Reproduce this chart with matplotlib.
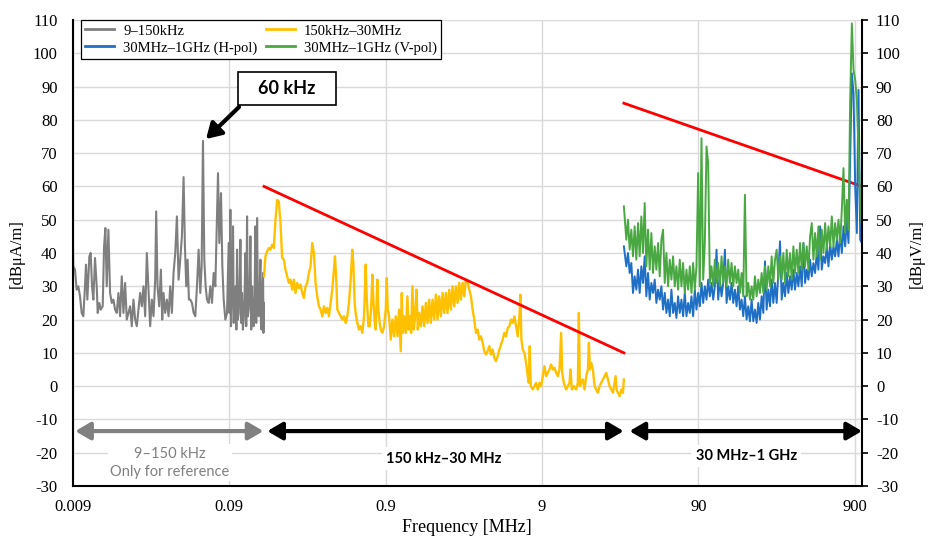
import matplotlib
matplotlib.use('Agg')
import matplotlib.pyplot as plt
from matplotlib.patches import Rectangle
from matplotlib.ticker import NullLocator

# 9-150 kHz band, frequency in kHz, level in dBuA/m
lf_freq = [9.0, 9.04, 9.27, 9.50, 9.74, 9.98, 10.23, 10.48, 10.74, 10.90, 11.12, 11.45, 11.68, 11.91,
           12.15, 12.45, 12.76, 12.95, 13.27, 13.54, 13.94, 14.22, 14.50, 14.79, 15.16, 15.54, 15.93,
           16.32, 16.73, 17.15, 17.57, 18.01, 18.46, 18.92, 19.39, 19.87, 20.37, 20.87, 21.39, 21.93,
           22.47, 23.03, 24.19, 24.80, 25.41, 26.05, 26.70, 27.36, 28.04, 28.74, 29.46, 30.19, 30.64,
           31.25, 32.03, 32.83, 33.48, 34.14, 34.99, 35.86, 36.76, 37.67, 38.61, 39.57, 40.56, 41.57,
           42.60, 43.66, 44.75, 45.87, 46.78, 47.71, 48.66, 49.62, 50.61, 51.87, 53.16, 54.49, 55.84,
           57.23, 58.66, 59.83, 61.02, 62.23, 63.46, 64.73, 66.34, 67.99, 69.68, 71.42, 73.20, 75.02,
           76.14, 77.65, 79.58, 81.16, 82.78, 84.84, 86.95, 89.12, 90.2, 91.34, 92.2, 93.15, 94.1,
           95.00, 96.0, 96.89, 97.8, 98.81, 99.8, 100.8, 102.0, 103.3, 104.6, 105.9, 107.2, 108.5,
           109.8, 111.2, 112.6, 114.0, 115.4, 116.8, 118.2, 119.7, 121.2, 122.7, 124.2, 125.8, 127.3,
           128.9, 130.5, 132.1, 133.7, 135.4, 137.1, 138.8, 140.5, 142.2, 143.3, 144.4, 146.1, 147.9,
           148.6, 149.4]
lf_level = [42, 36, 35, 29, 30, 27, 22, 21, 30, 36.5, 26, 39, 40, 30,
            26, 38.5, 30, 22, 25, 23, 24, 42, 47.5, 30, 47, 28, 25,
            26, 23, 22, 28, 21, 33, 22, 31, 20, 22, 24, 18, 26,
            20, 18, 28, 24, 30, 21, 40, 29, 18, 26, 21, 32, 52.5,
            30, 24, 35, 20, 28, 22, 26, 21, 30, 22, 34, 40, 51,
            32, 38, 45, 62.8, 42, 30, 38, 26, 26, 25, 22, 21, 30,
            41, 28, 36, 73.7, 38, 30, 26, 25, 30, 25, 34, 30, 51,
            64, 43, 58, 36, 26, 20, 22, 43, 22, 53, 18, 26, 31,
            48, 19, 24, 29, 30, 17, 41, 20, 22, 30, 44, 19, 28,
            17, 20, 27, 40, 18, 51, 21, 23, 29, 45, 17, 30, 20,
            18, 27, 48, 19, 50.5, 22, 21, 29, 38, 19, 17, 27, 34,
            16, 25]

# 150 kHz-30 MHz band, frequency in MHz
hf_freq = [0.150, 0.1531, 0.1569, 0.1608, 0.1648, 0.1689, 0.1732, 0.1775, 0.1819, 0.1864, 0.1911,
           0.1958, 0.2007, 0.2057, 0.2108, 0.2161, 0.2214, 0.2270, 0.2326, 0.2384, 0.2443, 0.2504,
           0.2567, 0.2631, 0.2696, 0.2763, 0.2832, 0.2903, 0.2975, 0.3049, 0.3125, 0.3203, 0.3282,
           0.3364, 0.3448, 0.3534, 0.3622, 0.3712, 0.3804, 0.3899, 0.3996, 0.4096, 0.4198, 0.4260,
           0.4345, 0.4410, 0.4519, 0.4632, 0.4747, 0.4866, 0.4987, 0.5111, 0.5238, 0.5369, 0.5502,
           0.5585, 0.5695, 0.5780, 0.5924, 0.6072, 0.6223, 0.6378, 0.6537, 0.6699, 0.6799, 0.6969,
           0.7107, 0.7248, 0.7392, 0.7502, 0.7651, 0.7765, 0.7958, 0.8077, 0.8237, 0.8360, 0.8568,
           0.8781, 0.9000, 0.9134, 0.9269, 0.9454, 0.9689, 0.9930, 1.0178, 1.0431, 1.0691, 1.0957,
           1.1230, 1.1397, 1.1566, 1.1796, 1.2090, 1.2391, 1.2576, 1.2825, 1.3080, 1.3339, 1.3605,
           1.3876, 1.4151, 1.4432, 1.4719, 1.5086, 1.5462, 1.5847, 1.6242, 1.6646, 1.7061, 1.7486,
           1.7921, 1.8367, 1.8826, 1.9293, 1.9774, 2.0267, 2.0771, 2.1289, 2.1819, 2.2362, 2.2919,
           2.3490, 2.4075, 2.4675, 2.5289, 2.5919, 2.6565, 2.7226, 2.7905, 2.8600, 2.9312, 3.0042,
           3.0790, 3.1557, 3.2343, 3.3148, 3.3974, 3.4820, 3.5687, 3.6576, 3.7487, 3.8420, 3.9378,
           4.0358, 4.1363, 4.2394, 4.3449, 4.4531, 4.5641, 4.6777, 4.7942, 4.9136, 5.0360, 5.1614,
           5.2899, 5.4218, 5.5568, 5.6952, 5.8370, 5.9824, 6.131, 6.284, 6.441, 6.536, 6.634, 6.765,
           6.934, 7.107, 7.283, 7.392, 7.502, 7.613, 7.841, 8.037, 8.237, 8.442, 8.652, 8.867, 9.088,
           9.315, 9.547, 9.784, 10.028, 10.278, 10.534, 10.796, 11.065, 11.341, 11.623, 11.913,
           12.090, 12.392, 12.825, 13.145, 13.472, 13.673, 13.944, 14.363, 14.865, 15.235, 15.462,
           15.692, 16.004, 16.402, 16.811, 17.230, 17.658, 17.922, 18.187, 18.549, 19.011, 19.484,
           19.970, 20.467, 20.976, 21.499, 22.034, 22.584, 23.146, 23.722, 24.313, 24.918, 25.539,
           26.175, 26.565, 26.960, 27.495, 28.180, 28.882, 29.601, 30.0]
hf_level = [33, 39, 40.5, 41.5, 41, 42.5, 41.5, 50, 56, 55.5, 49,
            38.5, 38, 35, 33, 31, 32, 29, 32, 28, 31, 29.5,
            30.5, 28, 26.5, 30, 31, 34, 36, 43, 40, 31, 27,
            24, 23, 21, 24, 22, 23.5, 21, 25, 29, 35, 39,
            32, 23, 22, 21, 20, 21, 19, 21, 25, 32, 41,
            37, 25, 22, 19, 17, 18, 16, 21, 36.5, 27, 18,
            18, 23, 33.5, 26, 19, 17, 32, 23, 19, 17, 16,
            18, 23, 32.5, 23, 21, 14, 20, 15, 21, 15, 23,
            10.5, 28, 16, 21, 16, 27, 17, 21, 16, 30, 17,
            21, 29, 17, 22, 18, 24, 18, 25, 19, 26, 19,
            26, 20, 27.5, 20, 27, 21, 28, 22, 28, 22, 29,
            23, 30, 24, 30, 25, 31, 26, 31, 27, 32, 31.5,
            29, 27, 23, 20, 16, 17, 14, 15, 13, 10.5, 9.5,
            10.5, 12, 9.5, 11, 8.5, 7.5, 9, 11, 12.5, 14, 16,
            15, 17.5, 18, 20, 19, 21, 18, 15, 21, 27.5, 14, 11,
            10, 7, 3, 1, 12, 0, -1, 0, 1, -1, 1, 0, 3,
            6, 3, 4, 5, 6.5, 5, 5.5, 4, 3, 5, 16,
            4, 1, -1, 0, 1, 5, -1, 0, -1, 1, 22,
            0, 1, 2, -1, 3, 5, 13, 5, 7, 5, 0,
            -1, -2, 0, 1, 2, 3, 4, 2, 0, -1, -2,
            1, 3, -1, -2, -3, -1, -2, 2]

# 30 MHz-1 GHz band, frequency in MHz, level in dBuV/m
vhf_freq = [30.0, 31.10, 31.87, 32.67, 33.48, 34.31, 35.16, 36.04, 36.94, 37.86, 38.80, 39.77,
            40.76, 41.77, 42.81, 43.88, 44.97, 46.09, 47.24, 48.42, 49.62, 50.86, 52.13, 53.42,
            54.75, 56.12, 57.52, 58.95, 60.42, 61.92, 63.46, 65.04, 66.66, 68.32, 70.03, 71.77,
            73.56, 75.39, 77.27, 79.19, 81.16, 83.18, 85.26, 87.38, 89.56, 91.79, 94.07, 96.42,
            98.82, 101.3, 103.8, 106.4, 109.0, 111.8, 114.5, 117.4, 120.3, 123.3, 126.4, 129.5,
            132.8, 136.1, 139.4, 142.9, 146.5, 150.1, 153.9, 157.7, 161.6, 165.6, 169.8, 174.0,
            178.3, 182.8, 187.3, 192.0, 196.8, 201.7, 206.7, 211.9, 217.1, 222.5, 228.1, 233.8,
            239.6, 245.5, 251.7, 258.0, 264.4, 270.9, 277.7, 284.6, 291.7, 299.0, 306.4, 314.0,
            321.9, 329.9, 338.1, 346.5, 355.1, 364.0, 373.0, 382.3, 391.8, 401.6, 411.6, 421.9,
            432.4, 443.1, 454.2, 465.5, 477.1, 488.9, 501.1, 513.6, 526.4, 539.5, 552.9, 566.7,
            580.8, 595.3, 610.1, 625.3, 640.9, 656.9, 673.2, 690.0, 707.2, 724.8, 742.8, 761.3,
            780.3, 799.7, 819.6, 840.1, 861.0, 882.4, 904.4, 926.9, 950.0, 973.7, 997.9]
vhf_hpol = [42, 36, 40, 34, 37, 28, 33, 29, 35, 28, 36, 31,
            39, 27, 34, 26, 31, 28, 32, 25, 29, 26, 30, 23,
            28, 22, 26, 21, 29, 22, 25, 20.5, 27, 22, 26, 21,
            28, 21, 25, 22, 27, 21, 29, 23, 28, 24, 31, 25,
            30, 26, 32, 27, 31, 26, 30, 41, 26, 32, 27, 31,
            41, 25, 30, 26, 31, 25, 29, 24, 30, 23, 26, 21,
            27, 20, 24, 19.5, 26, 19.5, 23, 19, 25, 20, 27, 22,
            37.5, 23, 29, 24, 32, 25, 31, 25, 34, 43.5, 26, 31,
            27, 34, 28, 33, 29, 35, 29, 34, 30, 36, 30, 43,
            31, 35, 32, 38, 33, 37, 34, 40, 35, 48, 35, 39,
            37, 42, 36, 43, 38, 42, 39, 44, 39, 46, 40, 48,
            42, 50, 43, 68, 94, 88, 60, 46, 89, 44, 43]
vhf_vpol = [54, 44, 50, 41, 47, 39, 48, 38, 49, 39, 51, 40,
            55, 36, 47, 35, 46, 34, 42, 35, 43, 33, 44, 47,
            31, 40, 30, 38, 32, 39, 30, 36, 29, 38, 30, 37,
            28, 35, 29, 36, 28, 37, 29, 36, 64, 30, 74.5, 32,
            43, 72, 67, 31, 36, 30, 38, 31, 37, 30, 39, 31,
            36, 30, 38, 31, 37, 30, 36, 31, 35, 28, 34, 27,
            57.5, 27, 31, 26, 30, 26, 33, 27, 32, 28, 34, 28,
            36, 29, 36, 30, 39, 31, 38, 41, 32, 39, 32, 40,
            31, 41, 33, 40, 32, 42, 34, 41, 34, 43, 35, 43,
            36, 42, 35, 45, 49, 38, 46, 39, 48, 38, 47, 40,
            49, 41, 48, 42, 51, 42, 49, 44, 50, 43, 53, 65.5,
            46, 56, 47, 86, 109, 95, 92, 86, 70, 55, 48]

# limit lines
limit_hf_freq = [0.15, 30]
limit_hf = [60, 10]
limit_vhf_freq = [30, 1000]
limit_vhf = [85, 60]

xticks = [0.009, 0.09, 0.9, 9, 90, 900]
xtick_labels = ['0.009', '0.09', '0.9', '9', '90', '900']

plt.rcParams['font.family'] = ['Liberation Serif', 'DejaVu Serif']
plt.rcParams['axes.unicode_minus'] = False

fig = plt.figure(figsize=(9.31, 5.42), dpi=100)
ax = fig.add_axes([0.0784, 0.1033, 0.8475, 0.8598])

l_gray, = ax.plot([f / 1000 for f in lf_freq], lf_level, color='#7f7f7f', lw=1.5, zorder=2)
l_yel, = ax.plot(hf_freq, hf_level, color='#ffc000', lw=1.7, zorder=2)
ax.plot(limit_hf_freq, limit_hf, color='#ff0000', lw=2.0, zorder=2.5)
ax.plot(limit_vhf_freq, limit_vhf, color='#ff0000', lw=2.0, zorder=2.5)
l_blue, = ax.plot(vhf_freq, vhf_hpol, color='#1f6fc5', lw=1.4, zorder=3)
l_green, = ax.plot(vhf_freq, vhf_vpol, color='#4aa842', lw=1.4, zorder=3.1)

ax.set_xscale('log')
ax.set_xlim(0.009, 1000)
ax.set_ylim(-30, 110)
ax.set_xticks(xticks)
ax.set_xticklabels(xtick_labels)
ax.xaxis.set_minor_locator(NullLocator())
ax.set_yticks(range(-30, 111, 10))
ax.grid(True, color='#d9d9d9', lw=1)
ax.set_axisbelow(True)
ax.tick_params(axis='both', length=0, labelsize=12)
ax.tick_params(axis='y', pad=11)
ax.tick_params(axis='x', pad=9)
ax.spines['top'].set_visible(False)
ax.spines['right'].set_visible(False)
ax.spines['left'].set_linewidth(1.5)
ax.spines['bottom'].set_linewidth(1.5)

ax2 = ax.twinx()
ax2.set_ylim(-30, 110)
ax2.set_yticks(range(-30, 111, 10))
ax2.tick_params(axis='y', direction='out', length=4, width=1.2, labelsize=12, pad=6)
for s in ['top', 'left', 'bottom']:
    ax2.spines[s].set_visible(False)
ax2.spines['right'].set_linewidth(1.5)

leg = ax.legend([l_gray, l_blue, l_yel, l_green],
                ['9–150kHz', '30MHz–1GHz (H-pol)', '150kHz–30MHz', '30MHz–1GHz (V-pol)'],
                ncol=2, loc='upper left', bbox_to_anchor=(0.0098, 1.0), borderaxespad=0,
                fontsize=10.5, frameon=True, fancybox=False, edgecolor='black', framealpha=1,
                handlelength=2.0, handletextpad=0.6, columnspacing=0.6, labelspacing=0.25,
                borderpad=0.3)
leg.get_frame().set_linewidth(0.9)
for l in leg.get_lines():
    l.set_linewidth(2)

# band arrows
ax.annotate('', xy=(0.1486, -13.5), xytext=(0.0093, -13.5),
            arrowprops=dict(arrowstyle='<|-|>,head_length=0.6,head_width=0.35', color='#808080',
                            lw=3, mutation_scale=15, shrinkA=0, shrinkB=0))
ax.annotate('', xy=(29.9, -13.5), xytext=(0.1573, -13.5),
            arrowprops=dict(arrowstyle='<|-|>,head_length=0.6,head_width=0.35', color='black',
                            lw=3, mutation_scale=15, shrinkA=0, shrinkB=0))
ax.annotate('', xy=(1000, -13.5), xytext=(32.6, -13.5),
            arrowprops=dict(arrowstyle='<|-|>,head_length=0.6,head_width=0.35', color='black',
                            lw=3, mutation_scale=15, shrinkA=0, shrinkB=0))

ax.text(0.0376, -23.0, '9–150 kHz\nOnly for reference', family='Lato', fontsize=10.5,
        color='#808080', ha='center', va='center', linespacing=1.35,
        bbox=dict(facecolor='white', edgecolor='none', pad=2))
ax.text(2.12, -21.8, '150 kHz–30 MHz', family='Lato', fontsize=10.5, fontweight='bold',
        ha='center', va='center', bbox=dict(facecolor='white', edgecolor='none', pad=3))
ax.text(182, -21.0, '30 MHz–1 GHz', family='Lato', fontsize=10.5, fontweight='bold',
        ha='center', va='center', bbox=dict(facecolor='white', edgecolor='none', pad=3))

# 60 kHz callout
ax.add_patch(Rectangle((0.209, 0.8176), 0.124, 0.0708, transform=ax.transAxes,
                       facecolor='white', edgecolor='black', lw=1.2, zorder=5))
ax.text(0.271, 0.853, '60 kHz', transform=ax.transAxes, family='Lato', fontsize=13,
        fontweight='bold', ha='center', va='center', zorder=6)
ax.annotate('', xy=(0.1686, 0.7446), xytext=(0.2104, 0.8133), xycoords='axes fraction',
            arrowprops=dict(arrowstyle='-|>,head_length=0.5,head_width=0.3', color='black',
                            lw=3, mutation_scale=18, shrinkA=0, shrinkB=0), zorder=6)

fig.text(467 / 931, 1 - 527 / 542, 'Frequency [MHz]', fontsize=13, ha='center', va='center')
fig.text(17 / 931, 0.533, '[dBμA/m]', fontsize=12, rotation=90, ha='center', va='center')
fig.text(917 / 931, 0.533, '[dBμV/m]', fontsize=12, rotation=90, ha='center', va='center')

fig.savefig('out.png', dpi=100)
